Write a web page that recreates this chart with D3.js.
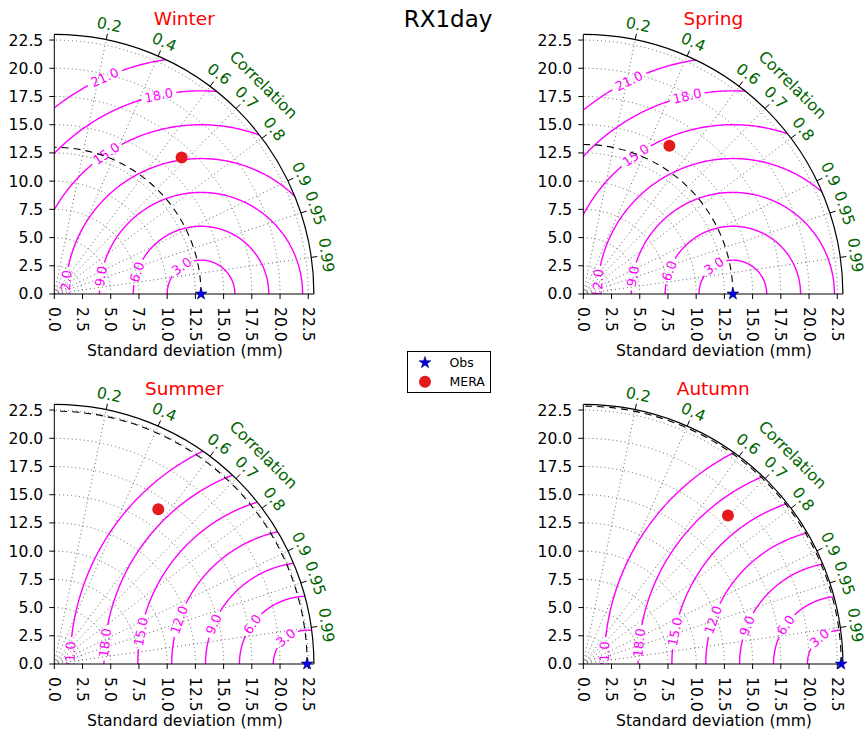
<!DOCTYPE html>
<html>
<head>
<meta charset="utf-8">
<script src="https://cdn.jsdelivr.net/npm/d3@7"></script>
<style>
  body { margin: 0; background: #fff; }
  text { font-family: "DejaVu Sans", sans-serif; }
</style>
</head>
<body>
<svg id="chart" width="868" height="736"></svg>
<script>
// ---- data ----
const seasons = ["Winter", "Spring", "Summer", "Autumn"];
const obsStd = [13.0, 13.25, 22.4, 22.85];          // reference (Obs) standard deviation, mm
const meraStd = [16.54, 15.19, 16.51, 18.36];       // MERA standard deviation, mm
const meraCorr = [0.682, 0.502, 0.558, 0.698];      // MERA correlation with Obs
const rmsLevels = [3, 6, 9, 12, 15, 18, 21];        // centred RMS difference contours
const stdTicks = [0, 2.5, 5, 7.5, 10, 12.5, 15, 17.5, 20, 22.5];
const corrTicks = [0.2, 0.4, 0.6, 0.7, 0.8, 0.9, 0.95, 0.99];
const stdMax = 23;

// ---- layout ----
const panelOrigins = [[54.3, 294], [583.3, 294], [54.3, 664], [583.3, 664]];
// where each RMS contour label sits, as an angle (deg) around the reference point
const rmsLabelAngles = [
  [125, 161, 170, 176, 124, 102, 114],
  [124, 160, 170, 175.5, 125, 103, 116],
  [129, 144, 157, 161, 169, 174, 178],
  [130, 145, 158, 161, 169, 174, 178]
];
const MAGENTA = "#ff00ff", GREEN = "#006400", FONT = 15.6;

const svg = d3.select("#chart");
const r = d3.scaleLinear().domain([0, stdMax]).range([0, 259.6]);
const R = r(stdMax);
const toXY = (x, y) => [r(x), -r(y)];
const arcPath = rad => `M${rad},0 A${rad},${rad} 0 0 0 0,${-rad}`;

svg.append("text")
  .attr("x", 448).attr("y", 27).attr("text-anchor", "middle")
  .attr("font-size", 23).text("RX1day");

seasons.forEach((season, i) => {
  const [ox, oy] = panelOrigins[i];
  const ref = obsStd[i];
  const g = svg.append("g").attr("transform", `translate(${ox},${oy})`);

  g.append("clipPath").attr("id", "quad" + i)
    .append("path").attr("d", `M0,0 L${R},0 A${R},${R} 0 0 0 0,${-R} Z`);

  // dotted grid: std arcs and correlation rays
  const grid = g.append("g").attr("fill", "none").attr("stroke", "#555")
    .attr("stroke-width", 0.9).attr("stroke-dasharray", "1,3");
  stdTicks.filter(v => v > 0).forEach(v => grid.append("path").attr("d", arcPath(r(v))));
  corrTicks.forEach(c => {
    const t = Math.acos(c);
    grid.append("line").attr("x1", 0).attr("y1", 0)
      .attr("x2", R * Math.cos(t)).attr("y2", -R * Math.sin(t));
  });

  // RMS contours around the reference point, with inline labels
  const cont = g.append("g").attr("clip-path", `url(#quad${i})`);
  rmsLevels.forEach((L, k) => {
    const phi = rmsLabelAngles[i][k];
    const pr = phi * Math.PI / 180;
    const [lx, ly] = toXY(ref + L * Math.cos(pr), L * Math.sin(pr));
    const label = cont.append("text")
      .attr("transform", `translate(${lx},${ly}) rotate(${90 - phi})`)
      .attr("text-anchor", "middle").attr("dy", "0.35em")
      .attr("font-size", 13).attr("fill", MAGENTA)
      .text(L.toFixed(1));
    const w = label.node().getComputedTextLength();
    const gap = ((w / 2 + 3) / r(L)) * 180 / Math.PI;
    const angles = d3.range(0, 180.01, 0.5);
    const line = d3.line()
      .defined(a => Math.abs(a - phi) > gap)
      .x(a => r(ref + L * Math.cos(a * Math.PI / 180)))
      .y(a => -r(L * Math.sin(a * Math.PI / 180)));
    cont.append("path").attr("d", line(angles))
      .attr("fill", "none").attr("stroke", MAGENTA).attr("stroke-width", 1.4);
  });

  // reference std arc
  g.append("path").attr("d", arcPath(r(ref)))
    .attr("fill", "none").attr("stroke", "#000").attr("stroke-width", 1.1)
    .attr("stroke-dasharray", "7,5");

  // frame
  g.append("path").attr("d", `M0,${-R} L0,0 L${R},0`)
    .attr("fill", "none").attr("stroke", "#000").attr("stroke-width", 1);
  g.append("path").attr("d", arcPath(R))
    .attr("fill", "none").attr("stroke", "#000").attr("stroke-width", 1.2);

  // std axes (left and bottom)
  stdTicks.forEach(v => {
    g.append("line").attr("x1", -5).attr("x2", 0).attr("y1", -r(v)).attr("y2", -r(v))
      .attr("stroke", "#000");
    g.append("text").attr("x", -11).attr("y", -r(v)).attr("dy", "0.35em")
      .attr("text-anchor", "end").attr("font-size", FONT).text(v.toFixed(1));
    g.append("line").attr("x1", r(v)).attr("x2", r(v)).attr("y1", 0).attr("y2", 5)
      .attr("stroke", "#000");
    g.append("text").attr("transform", `translate(${r(v)},13) rotate(90)`)
      .attr("dy", "0.35em").attr("text-anchor", "start")
      .attr("font-size", FONT).text(v.toFixed(1));
  });
  g.append("text").attr("x", 130.7).attr("y", 62).attr("text-anchor", "middle")
    .attr("font-size", FONT).text("Standard deviation (mm)");

  // correlation axis on the outer arc
  corrTicks.forEach(c => {
    const t = Math.acos(c), deg = t * 180 / Math.PI;
    g.append("line")
      .attr("x1", R * Math.cos(t)).attr("y1", -R * Math.sin(t))
      .attr("x2", (R + 6) * Math.cos(t)).attr("y2", -(R + 6) * Math.sin(t))
      .attr("stroke", "#000");
    g.append("text")
      .attr("transform", `translate(${275 * Math.cos(t)},${-275 * Math.sin(t)}) rotate(${90 - deg})`)
      .attr("text-anchor", "middle").attr("dy", "0.35em")
      .attr("font-size", FONT).attr("fill", GREEN).text(String(c));
  });
  const cA = Math.PI / 4;
  g.append("text")
    .attr("transform", `translate(${296 * Math.cos(cA)},${-296 * Math.sin(cA)}) rotate(45)`)
    .attr("text-anchor", "middle").attr("dy", "0.35em")
    .attr("font-size", 16).attr("fill", GREEN).text("Correlation");

  // season title
  g.append("text").attr("x", 130).attr("y", -269).attr("text-anchor", "middle")
    .attr("font-size", 18.5).attr("fill", "#ff0000").text(season);

  // markers
  g.append("path").attr("d", d3.symbol(d3.symbolStar, 44)())
    .attr("transform", `translate(${r(ref)},0)`)
    .attr("fill", "#0000ee").attr("stroke", "#000055").attr("stroke-width", 0.6);
  const s = meraStd[i], c = meraCorr[i];
  const [mx, my] = toXY(s * c, s * Math.sqrt(1 - c * c));
  g.append("circle").attr("cx", mx).attr("cy", my).attr("r", 6)
    .attr("fill", "#e41a1c");
});

// legend
const lg = svg.append("g").attr("transform", "translate(407.5,351.5)");
lg.append("rect").attr("width", 83).attr("height", 41)
  .attr("fill", "#fff").attr("stroke", "#000").attr("stroke-width", 1);
lg.append("path").attr("d", d3.symbol(d3.symbolStar, 44)())
  .attr("transform", "translate(17.5,11.2)")
  .attr("fill", "#0000ee").attr("stroke", "#000055").attr("stroke-width", 0.6);
lg.append("circle").attr("cx", 17.5).attr("cy", 30.2).attr("r", 6).attr("fill", "#e41a1c");
lg.append("text").attr("x", 42).attr("y", 11.2).attr("dy", "0.35em")
  .attr("font-size", 12.5).text("Obs");
lg.append("text").attr("x", 42).attr("y", 30.2).attr("dy", "0.35em")
  .attr("font-size", 12.5).text("MERA");
</script>
</body>
</html>
